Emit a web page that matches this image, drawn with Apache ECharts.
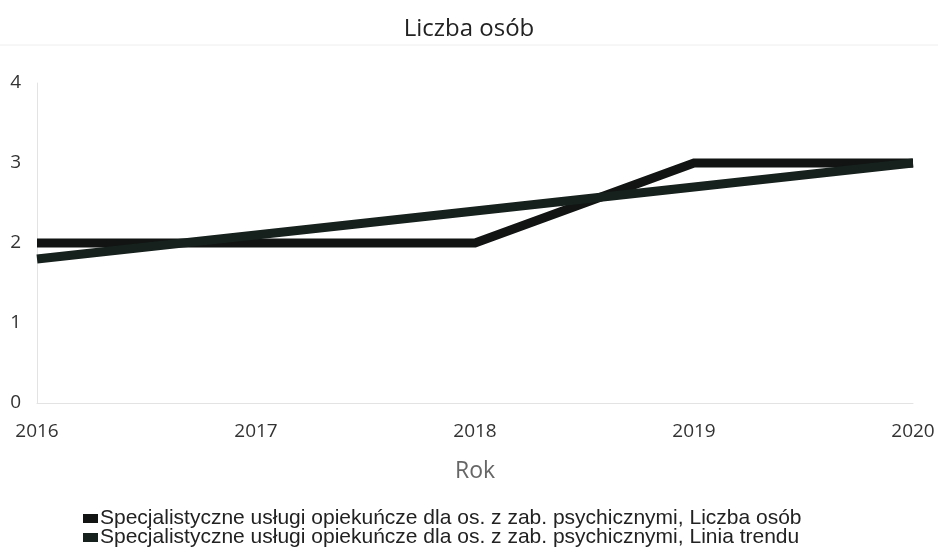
<!DOCTYPE html>
<html>
<head>
<meta charset="utf-8">
<script src="https://cdn.jsdelivr.net/npm/echarts@6/dist/echarts.min.js"></script>
<style>html,body{margin:0;padding:0;background:#fff}#c{width:938px;height:552px}</style>
</head>
<body>
<div id="c"></div>
<script>
const categories = ['2016', '2017', '2018', '2019', '2020'];
const seriesNames = [
  'Specjalistyczne usługi opiekuńcze dla os. z zab. psychicznymi, Liczba osób',
  'Specjalistyczne usługi opiekuńcze dla os. z zab. psychicznymi, Linia trendu'
];
const liczbaOsob = [2, 2, 2, 3, 3];
const liniaTrendu = [1.8, 2.1, 2.4, 2.7, 3.0];
const yTicks = [0, 1, 2, 3, 4];

const legendText = {fontFamily: 'Liberation Sans', fontSize: 21, color: '#222', padding: [0, 0, 0, -3]};
const chart = echarts.init(document.getElementById('c'), null, {renderer: 'canvas'});
chart.setOption({
  animation: false,
  backgroundColor: '#fff',
  title: {
    text: 'Liczba osób', left: 'center', top: 12,
    textStyle: {fontFamily: 'Open Sans', fontWeight: 'normal', fontSize: 24, color: '#222'}
  },
  graphic: [{
    type: 'line', shape: {x1: 0, y1: 45, x2: 938, y2: 45},
    style: {stroke: '#eeeeee', lineWidth: 1}, silent: true
  }],
  grid: {left: 37, right: 25, top: 83, bottom: 149, containLabel: false},
  xAxis: {
    type: 'category', data: categories, boundaryGap: false,
    name: 'Rok', nameLocation: 'middle', nameGap: 57,
    nameTextStyle: {fontFamily: 'Open Sans', fontSize: 23, color: '#666'},
    axisLine: {show: true, lineStyle: {color: '#e3e3e3', width: 1}},
    axisTick: {show: false},
    axisLabel: {fontFamily: 'Open Sans', fontSize: 19, color: '#333', margin: 19}
  },
  yAxis: {
    type: 'value', min: yTicks[0], max: yTicks[yTicks.length - 1], interval: 1,
    axisLine: {show: true, lineStyle: {color: '#e3e3e3', width: 1}},
    axisTick: {show: false},
    splitLine: {show: false},
    axisLabel: {fontFamily: 'Open Sans', fontSize: 19, color: '#333', margin: 16}
  },
  legend: [
    {
      left: 78, top: 503, itemWidth: 15, itemHeight: 9, icon: 'rect',
      textStyle: legendText, data: [seriesNames[0]]
    },
    {
      left: 78, top: 522, itemWidth: 15, itemHeight: 9, icon: 'rect',
      textStyle: legendText, data: [seriesNames[1]]
    }
  ],
  series: [
    {
      name: seriesNames[0], type: 'line', data: liczbaOsob, symbol: 'none',
      lineStyle: {color: '#111412', width: 9, join: 'miter', cap: 'butt'}, itemStyle: {color: '#111412'}
    },
    {
      name: seriesNames[1], type: 'line', data: liniaTrendu, symbol: 'none',
      lineStyle: {color: '#16201c', width: 9, cap: 'butt'}, itemStyle: {color: '#16201c'}
    }
  ]
});
</script>
</body>
</html>
